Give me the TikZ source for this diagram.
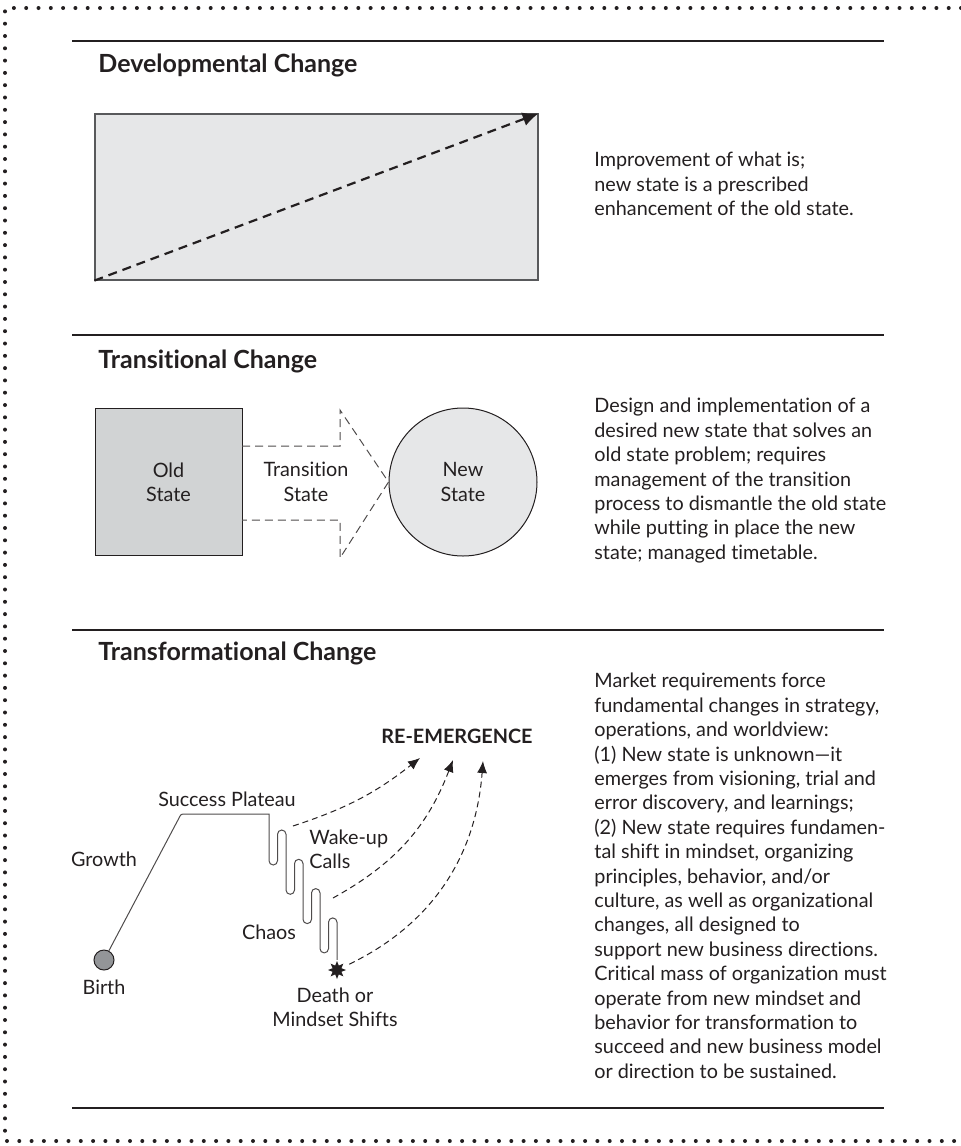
\documentclass[tikz,border=0pt]{standalone}
\usepackage{fontspec}
\setmainfont[Ligatures=NoCommon]{Lato}
\usetikzlibrary{arrows.meta,positioning,shapes.geometric}
\definecolor{ink}{HTML}{231F20}
\definecolor{paleGray}{HTML}{E6E7E8}
\definecolor{midGray}{HTML}{D1D3D4}
\definecolor{darkGray}{HTML}{939598}
\definecolor{edgeGray}{HTML}{58595B}

\begin{document}
\begin{tikzpicture}[x=0.5pt,y=-0.5pt,
  every node/.style={text=ink,font=\fontsize{9.9}{12.2}\selectfont},
  heading/.style={anchor=west,inner sep=0,font=\fontsize{12.5}{15}\selectfont\bfseries},
  blurb/.style={anchor=north west,inner sep=0,align=left},
  tag/.style={align=center,inner sep=1pt},
  sectionrule/.style={ink,line width=0.7pt},
  wake/.style={ink,dash pattern=on 3pt off 2pt,line width=0.5pt,-{Latex[length=6pt,width=5pt]}},
  plateau/.style={ink!80,line width=0.5pt}]
\useasboundingbox (0,0) rectangle (961,1146);
\draw[ink,line width=2pt,line cap=round,dash pattern=on 0pt off 6.15pt] (961,8) -- (5,8) -- (5,1141) -- (961,1141);
\foreach \y in {41,335,630,1108}
  \draw[sectionrule] (72,\y) -- (884,\y);

\node[heading] (dev) at (98,65) {Developmental Change};
\node[heading] (trans) at (98,361) {Transitional Change};
\node[heading] (form) at (98,653) {Transformational Change};

\node[draw=edgeGray,fill=paleGray,line width=0.6pt,minimum width=221.5pt,minimum height=83pt,inner sep=0] (field) at (316.5,197) {};
\draw[ink,line width=1.1pt,dash pattern=on 4.5pt off 3pt,-{Latex[length=8pt,width=7pt]}] (field.south west) -- (field.north east);
\node[blurb] (devtext) at (594,152) {Improvement of what is;\\new state is a prescribed\\enhancement of the old state.};

\node[draw=ink,fill=midGray,line width=0.5pt,minimum size=73.5pt,inner sep=0,align=center] (old) at (168.5,482) {Old\\State};
\node[draw=ink,fill=paleGray,circle,line width=0.5pt,minimum size=74pt,inner sep=0,align=center] (new) at (463,482) {New\\State};
\draw[ink!80,dash pattern=on 4pt off 2.5pt,line width=0.5pt] (242,446) -- (340,446) -- (340,410) -- (new.west) -- (340,558) -- (340,520) -- (242,520);
\node[tag] (shift) at (306,482) {Transition\\State};
\node[blurb] (transtext) at (594,398) {Design and implementation of a\\desired new state that solves an\\old state problem; requires\\management of the transition\\process to dismantle the old state\\while putting in place the new\\state; managed timetable.};

\node[circle,draw=ink,fill=darkGray,minimum size=10pt,inner sep=0,line width=0.5pt] (birth) at (104,960) {};
\node[below=1pt of birth] (birthtext) {Birth};
\node[star,star points=8,star point ratio=1.9,fill=ink,minimum size=9pt,inner sep=0] (death) at (337,970) {};
\draw[plateau] (birth) -- (179,818) .. controls (181,814) .. (186,814) -- (269,814) -- ++(0,46.75)
  \foreach \i in {1,2,3}{ arc[start angle=180,end angle=360,radius=2.125pt] -- ++(0,-26.5) arc[start angle=180,end angle=0,radius=2.125pt] -- ++(0,55.8) }
  arc[start angle=180,end angle=360,radius=2.125pt] -- ++(0,-26.5) arc[start angle=180,end angle=0,radius=2.125pt] -- (death);
\node (success) at (227,799) {Success Plateau};
\node (growth) at (104,859) {Growth};
\node[anchor=west,align=left,inner sep=0] (calls) at (309,849) {Wake-up\\Calls};
\node (chaos) at (269,932) {Chaos};
\node[align=center] (mind) at (335,1007) {Death or\\Mindset Shifts};
\node[font=\fontsize{9.9}{12.2}\selectfont\bfseries] (reemerge) at (457,736) {RE-EMERGENCE};
\coordinate (w1) at (293,826);
\coordinate (w2) at (333,898);
\coordinate (e1) at (420,758);
\coordinate (e2) at (453,760);
\coordinate (e3) at (483,761);
\draw[wake] (w1) to[bend right=10] (e1);
\draw[wake] (w2) to[bend right=20] (e2);
\draw[wake,shorten <=4pt] (death) to[bend right=30] (e3);
\node[blurb] (formtext) at (594,673) {Market requirements force\\fundamental changes in strategy,\\operations, and worldview:\\(1) New state is unknown---it\\emerges from visioning, trial and\\error discovery, and learnings;\\(2) New state requires fundamen-\\tal shift in mindset, organizing\\principles, behavior, and/or\\culture, as well as organizational\\changes, all designed to\\support new business directions.\\Critical mass of organization must\\operate from new mindset and\\behavior for transformation to\\succeed and new business model\\or direction to be sustained.};
\end{tikzpicture}
\end{document}
